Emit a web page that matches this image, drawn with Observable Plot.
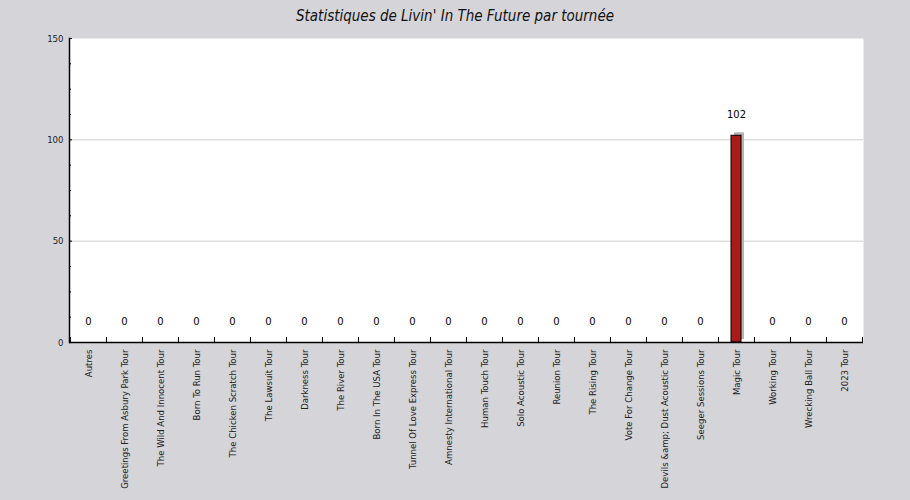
<!DOCTYPE html>
<html>
<head>
<meta charset="utf-8">
<script src="https://cdn.jsdelivr.net/npm/d3@7"></script>
<script src="https://cdn.jsdelivr.net/npm/@observablehq/plot@0.6"></script>
<style>
  html, body { margin: 0; padding: 0; background: #d5d4d9; }
  #title { width: 910px; height: 30px; line-height: 32px; text-align: center;
    font-family: "DejaVu Sans Condensed", "DejaVu Sans", sans-serif; font-style: italic;
    font-size: 15px; color: #111; }
  #chart svg { display: block; background: transparent; }
</style>
</head>
<body>
<div id="title">Statistiques de Livin' In The Future par tournée</div>
<div id="chart"></div>
<script>
const tours = [
  "Autres", "Greetings From Asbury Park Tour", "The Wild And Innocent Tour", "Born To Run Tour",
  "The Chicken Scratch Tour", "The Lawsuit Tour", "Darkness Tour", "The River Tour",
  "Born In The USA Tour", "Tunnel Of Love Express Tour", "Amnesty International Tour",
  "Human Touch Tour", "Solo Acoustic Tour", "Reunion Tour", "The Rising Tour",
  "Vote For Change Tour", "Devils &amp; Dust Acoustic Tour", "Seeger Sessions Tour",
  "Magic Tour", "Working Tour", "Wrecking Ball Tour", "2023 Tour"
];
const counts = [0,0,0,0,0,0,0,0,0,0,0,0,0,0,0,0,0,0,102,0,0,0];
const majorTicks = [0, 50, 100, 150];
const minorTicks = [12.5, 25, 37.5, 62.5, 75, 87.5, 112.5, 125, 137.5];
const gridLines = [50, 100];

const data = tours.map((t, i) => ({tour: t, value: counts[i]}));

const W = 910, H = 470;
const mL = 69, mR = 47, mT = 8, mB = 158;
const plotW = W - mL - mR, plotH = H - mT - mB;
const step = plotW / tours.length;
const font = "DejaVu Sans Condensed, DejaVu Sans, sans-serif";

const chart = Plot.plot({
  width: W, height: H,
  marginLeft: mL, marginRight: mR, marginTop: mT, marginBottom: mB,
  style: {background: "transparent", fontFamily: font, fontSize: "9.5px", color: "#222"},
  x: {type: "band", domain: tours, padding: 0, label: null},
  y: {domain: [0, 150], label: null},
  marks: [
    Plot.frame({fill: "white", stroke: "none"}),
    Plot.ruleY(gridLines, {stroke: "#cfcfcf"}),
    Plot.axisY({ticks: majorTicks, tickSize: 0, tickPadding: 6, fontSize: 9.5, fill: "#222"}),
    Plot.axisX({tickRotate: -90, tickSize: 0, tickPadding: 7, fontSize: 9.5, fill: "#222"}),
    // inward y ticks
    Plot.tickY(majorTicks, {y: d => d, insetRight: plotW - 3, stroke: "black"}),
    Plot.tickY(minorTicks, {y: d => d, insetRight: plotW - 2, stroke: "black"}),
    // inward x ticks at band boundaries
    Plot.tickX(tours, {x: d => d, dx: -step / 2, insetTop: plotH - 5, stroke: "black"}),
    Plot.tickX(tours.slice(-1), {x: d => d, dx: step / 2, insetTop: plotH - 5, stroke: "black"}),
    // bar shadows and bars
    Plot.barY(data.filter(d => d.value > 0), {x: "tour", y: "value", insetLeft: 13, insetRight: 13,
      dx: 3, dy: -3, fill: "#b4b4b4"}),
    Plot.barY(data.filter(d => d.value > 0), {x: "tour", y: "value", insetLeft: 13, insetRight: 13,
      fill: "#a91b18", stroke: "black", strokeWidth: 1}),
    // value labels
    Plot.text(data, {x: "tour", y: "value", text: d => String(d.value), dy: -21,
      fontFamily: "DejaVu Sans, sans-serif", fontSize: 10, fill: "black"}),
    // axis lines
    Plot.ruleY([0], {stroke: "black", strokeWidth: 1.5}),
    Plot.frame({anchor: "left", stroke: "black", strokeWidth: 1.5})
  ]
});
document.getElementById("chart").appendChild(chart);
</script>
</body>
</html>
